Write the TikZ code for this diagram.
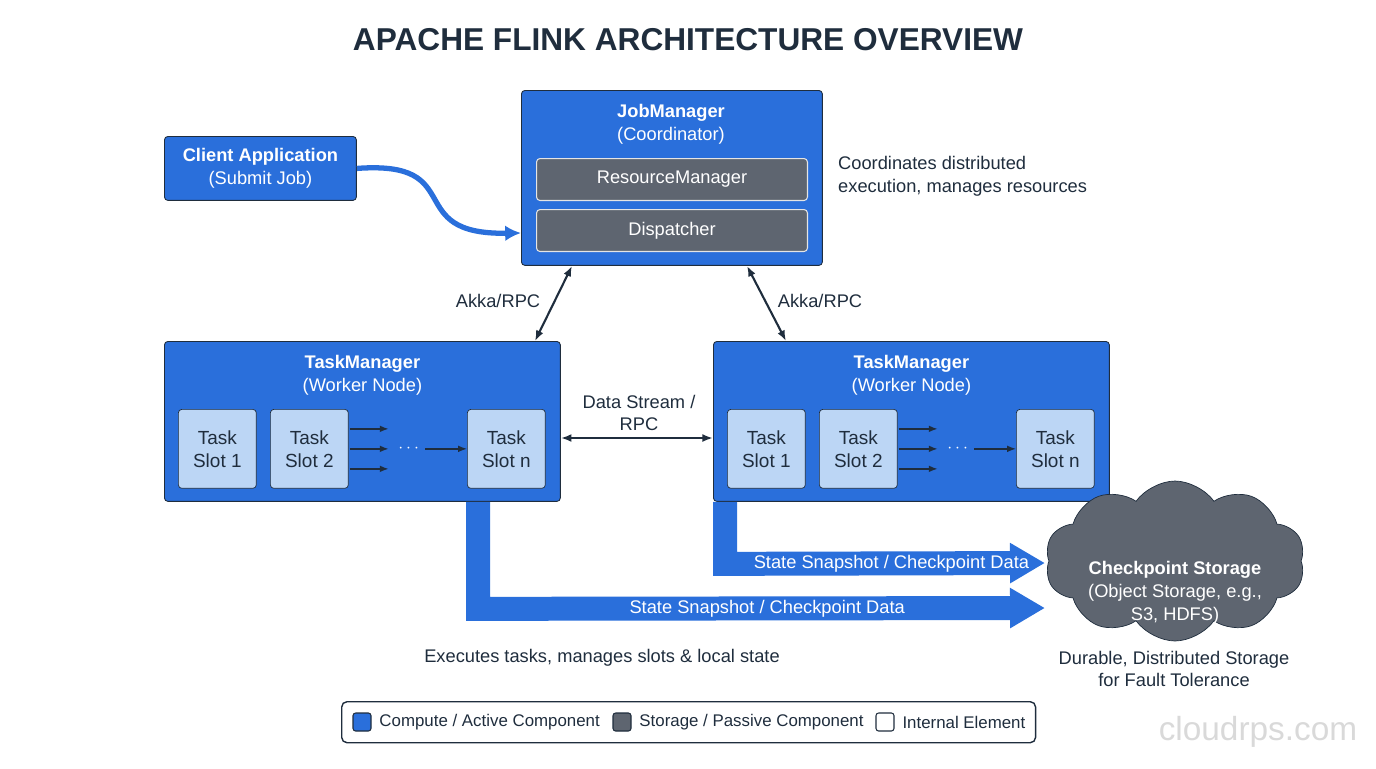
\documentclass[tikz,border=0pt]{standalone}
\usepackage{fontspec}
\setmainfont{Liberation Sans}
\usetikzlibrary{positioning,arrows.meta,calc,shapes.symbols}
\definecolor{fblue}{HTML}{2A6FDB}
\definecolor{fnavy}{HTML}{1F2D3D}
\definecolor{fgray}{HTML}{5E6570}
\definecolor{fslot}{HTML}{BCD6F5}
\tikzset{
    compute/.style={draw=fnavy, line width=0.5pt, fill=fblue, rounded corners=2pt, anchor=north west},
    inner/.style={draw=white!80!gray, line width=0.6pt, fill=fgray, rounded corners=2pt, text=white, anchor=north west},
    slot/.style={draw=fnavy, line width=0.4pt, fill=fslot, rounded corners=2pt, anchor=north west,
        minimum width=1.56cm, minimum height=1.58cm, align=center, text=fnavy, font=\fontsize{10.8}{13}\selectfont},
    txt/.style={font=\fontsize{10.4}{13}\selectfont},
    head/.style={txt, text=white, align=center},
    note/.style={txt, text=fnavy, align=left},
    legtext/.style={font=\fontsize{9.6}{12}\selectfont, text=fnavy},
    rpc/.style={{Latex[length=6pt]}-{Latex[length=6pt]}, line width=1.2pt, draw=fnavy},
    small/.style={-{Latex[length=5pt]}, line width=0.8pt, draw=fnavy},
    fat/.style={line width=0.48cm, draw=fblue, -{Triangle[length=0.7cm,width=0.76cm]}},
    key/.style={draw=fnavy, line width=0.6pt, rounded corners=1.5pt, minimum size=0.36cm, inner sep=0pt}
}
\begin{document}
\begin{tikzpicture}[x=0.02cm,y=-0.02cm]
    \useasboundingbox (0,0) rectangle (1376,768);
    % Title
    \node[text=fnavy, font=\fontsize{18}{22}\selectfont\bfseries] (title) at (688,40) {APACHE FLINK ARCHITECTURE OVERVIEW};
    % JobManager
    \node[compute, minimum width=6.02cm, minimum height=3.5cm] (jm) at (521,90) {};
    \node[head] (jmt) at (671,124) {\textbf{JobManager}\\(Coordinator)};
    \node[inner, minimum width=5.42cm, minimum height=0.84cm] (rm) at (536,158) {};
    \node[txt, text=white] at (rm.center) {ResourceManager};
    \node[inner, minimum width=5.42cm, minimum height=0.84cm] (disp) at (536,209) {};
    \node[txt, text=white] at (disp.center) {Dispatcher};
    \node[note, anchor=west] (jmnote) at (832,176) {Coordinates distributed\\execution, manages resources};
    % Client
    \node[compute, minimum width=3.84cm, minimum height=1.28cm] (client) at (164,136) {};
    \node[head] at (client.center) {\textbf{Client Application}\\(Submit Job)};
    \draw[line width=3pt, draw=fblue, -{Latex[length=9pt,width=9pt]}]
        (client.east) .. controls (470,160) and (400,235) .. (jm.west |- 0,233);
    % TaskManagers
    \foreach \n/\x in {tml/164,tmr/713} {
        \node[compute, minimum width=7.92cm, minimum height=3.2cm] (\n) at (\x,341) {};
        \node[head] at ($(\n.north)+(0,34)$) {\textbf{TaskManager}\\(Worker Node)};
        \node[slot] (\n-s1) at (\x+14,409) {Task\\Slot 1};
        \node[slot] (\n-s2) at (\x+106,409) {Task\\Slot 2};
        \node[slot] (\n-sn) at (\x+303,409) {Task\\Slot n};
        \foreach \dy in {-20,0,20}
            \draw[small] ($(\n-s2.east)+(1,\dy)$) -- ++(39,0);
        \node[text=white] (\n-dots) at ($(\n-s2.east)+(60,0)$) {$\cdots$};
        \draw[small] (\n-dots.east) -- (\n-sn.west);
    }
    % RPC links
    \draw[rpc] (tml.north -| 535,0) -- (jm.south -| 572,0);
    \node[note] at (498,301) {Akka/RPC};
    \draw[rpc] (tmr.north -| 786,0) -- (jm.south -| 747,0);
    \node[note] at (820,301) {Akka/RPC};
    \draw[rpc] (tml.east |- 0,438) -- (tmr.west |- 0,438);
    \node[note, align=center] at (639,413) {Data Stream /\\RPC};
    % Checkpoint storage
    \node[cloud, cloud puffs=10, cloud puff arc=110, aspect=1.7, draw=fnavy, fill=fgray,
        minimum width=5.2cm, minimum height=3.2cm, inner sep=0pt] (store) at (1175,561) {};
    \node[head] (storet) at (1175,593) {\textbf{Checkpoint Storage}\\(Object Storage, e.g.,\\S3, HDFS)};
    \coordinate (in1) at (1045,563);
    \coordinate (in2) at (1045,608);
    \draw[fat] ($(tmr.south west)+(12,0)$) -- ++(0,62) -- (in1)
        node[pos=0.52, txt, text=white] {State Snapshot / Checkpoint Data};
    \draw[fat] ($(tml.south west)+(314,0)$) -- ++(0,107) -- (in2)
        node[pos=0.51, txt, text=white] {State Snapshot / Checkpoint Data};
    % Notes
    \node[note] (tmnote) at (602,658) {Executes tasks, manages slots \& local state};
    \node[note, align=center] (stnote) at (1174,669) {Durable, Distributed Storage\\for Fault Tolerance};
    % Legend
    \node[draw=fnavy, line width=0.8pt, rounded corners=3pt, minimum width=13.88cm, minimum height=0.82cm, anchor=north west] (legend) at (341,701) {};
    \node[key, fill=fblue] (k1) at (362,722) {};
    \node[legtext, right=1pt of k1] {Compute / Active Component};
    \node[key, fill=fgray] (k2) at (622,722) {};
    \node[legtext, right=1pt of k2] {Storage / Passive Component};
    \node[key, fill=white] (k3) at (885,722) {};
    \node[legtext, right=1pt of k3] {Internal Element};
    % Watermark
    \node[text=gray!30, font=\fontsize{19}{22}\selectfont] (mark) at (1258,732) {cloudrps.com};
\end{tikzpicture}
\end{document}
